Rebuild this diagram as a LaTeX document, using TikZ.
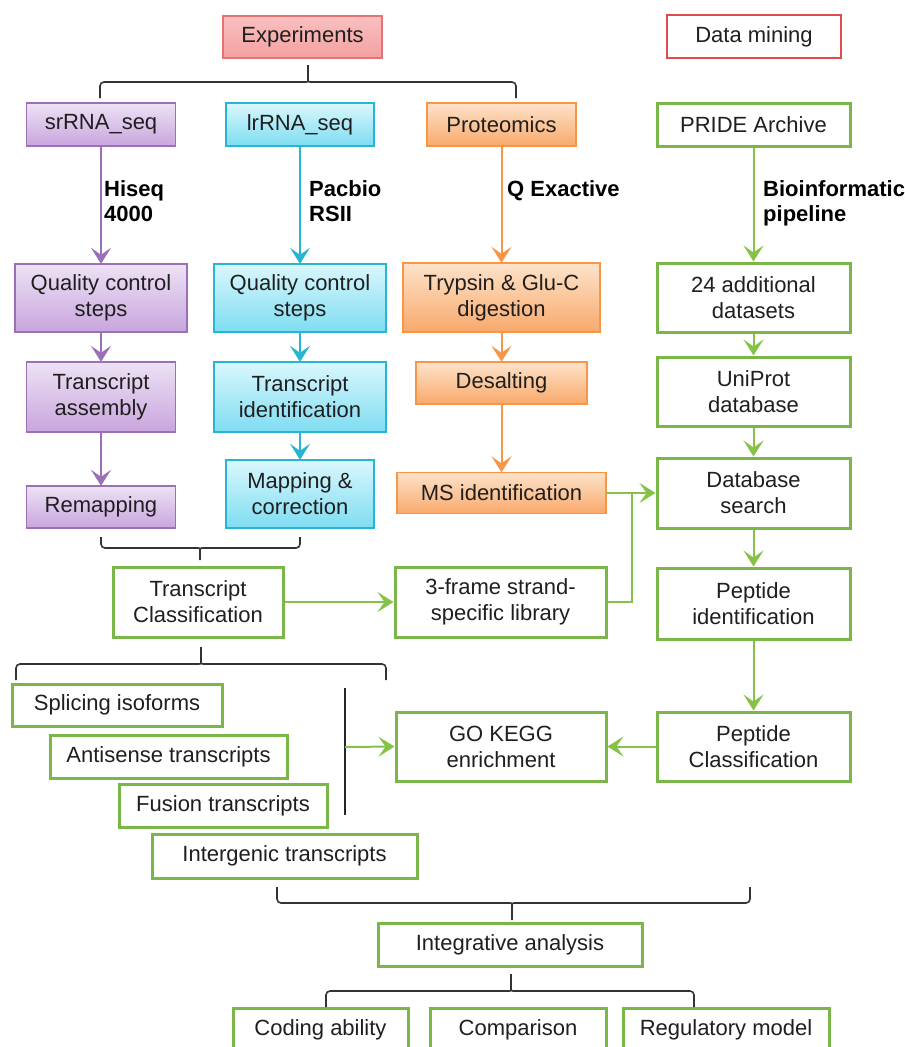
\documentclass[tikz,border=0pt]{standalone}
\usepackage{fontspec}
\setmainfont{Liberation Sans}
\usetikzlibrary{arrows.meta, positioning}
\definecolor{purpD}{HTML}{9C70B8}
\definecolor{purpT}{HTML}{EDE2F5}
\definecolor{purpB}{HTML}{C9A5DD}
\definecolor{cyanD}{HTML}{26B5D3}
\definecolor{cyanT}{HTML}{DAF7FC}
\definecolor{cyanB}{HTML}{7EDDF2}
\definecolor{orngD}{HTML}{F79646}
\definecolor{orngT}{HTML}{FDE3CA}
\definecolor{orngB}{HTML}{F9A96B}
\definecolor{redD}{HTML}{E04B4F}
\definecolor{redL}{HTML}{E57373}
\definecolor{redT}{HTML}{F9C0C0}
\definecolor{redB}{HTML}{F4A0A0}
\definecolor{grnD}{HTML}{7AB648}
\definecolor{grnA}{HTML}{86C247}

\begin{document}
\begin{tikzpicture}[x=1pt, y=-1pt, font=\fontsize{22}{26}\selectfont,
  box/.style={align=center, inner sep=0pt, text=black!88},
  sz/.style 2 args={minimum width=#1pt, minimum height=#2pt},
  srbox/.style={box, preaction={top color=purpT, bottom color=purpB},
                postaction={draw=purpD, line width=1.8pt}},
  lrbox/.style={box, preaction={top color=cyanT, bottom color=cyanB},
                postaction={draw=cyanD, line width=1.8pt}},
  prbox/.style={box, preaction={top color=orngT, bottom color=orngB},
                postaction={draw=orngD, line width=1.8pt}},
  expbox/.style={box, preaction={top color=redT, bottom color=redB},
                 postaction={draw=redL, line width=1.8pt}},
  dmbox/.style={box, draw=redD, line width=2.8pt, fill=white},
  gbox/.style={box, draw=grnD, line width=3pt, fill=white},
  lbl/.style={font=\fontsize{22}{25}\selectfont\bfseries, align=left, inner sep=0pt},
  tip/.style={-{Stealth[length=16pt, width=20pt, inset=7pt]}, line width=2pt},
  arrP/.style={tip, draw=purpD},
  arrC/.style={tip, draw=cyanD},
  arrO/.style={tip, draw=orngD},
  arrG/.style={tip, draw=grnA},
  lnG/.style={draw=grnA, line width=2pt},
  brc/.style={draw=black!80, line width=1.6pt, rounded corners=4pt}
]
\useasboundingbox (0,0) rectangle (905,1047);

% headers
\node[expbox, sz={159}{42}] (exp) at (302.5,37) {Experiments};
\node[dmbox, sz={174}{43}] (dm) at (754,36.5) {Data mining};

% column heads
\node[srbox, sz={149}{43}] (sr) at (101,124.5) {srRNA\_seq};
\node[lrbox, sz={148}{43}] (lr) at (300,124.5) {lrRNA\_seq};
\node[prbox, sz={149}{43}] (pr) at (501.5,124.5) {Proteomics};
\node[gbox, sz={193}{43}] (pride) at (753.5,124.5) {PRIDE Archive};

% second row
\node[srbox, sz={172}{68}] (qcs) at (101,298) {Quality control\\steps};
\node[lrbox, sz={172}{68}] (qcl) at (300,298) {Quality control\\steps};
\node[prbox, sz={197}{69}] (tryp) at (501.5,297.5) {Trypsin \& Glu-C\\digestion};
\node[gbox, sz={193}{69}] (add) at (753.5,297.5) {24 additional\\datasets};

% third row
\node[srbox, sz={149}{70}] (ta) at (101,397) {Transcript\\assembly};
\node[lrbox, sz={172}{70}] (ti) at (300,397) {Transcript\\identification};
\node[prbox, sz={171}{42}] (des) at (501.5,383) {Desalting};
\node[gbox, sz={193}{69}] (uni) at (753.5,391.5) {UniProt\\database};

% fourth row
\node[srbox, sz={149}{42}] (rem) at (101,507) {Remapping};
\node[lrbox, sz={148}{68}] (mc) at (300,494) {Mapping \&\\correction};
\node[prbox, sz={209}{41}] (ms) at (501.5,493) {MS identification};
\node[gbox, sz={193}{70}] (dbs) at (753.5,493) {Database\\search};

% classification row
\node[gbox, sz={170}{70}] (tc) at (198,602) {Transcript\\Classification};
\node[gbox, sz={211}{70}] (lib) at (500.5,602) {3-frame strand-\\specific library};
\node[gbox, sz={193}{71}] (pid) at (753.5,603.5) {Peptide\\identification};

% transcript classes
\node[gbox, sz={210}{42}] (spl) at (117,705) {Splicing isoforms};
\node[gbox, sz={237}{43}] (anti) at (168.5,756.5) {Antisense transcripts};
\node[gbox, sz={208}{43}] (fus) at (223,805.5) {Fusion transcripts};
\node[gbox, sz={265}{44}] (igen) at (284.5,856) {Intergenic transcripts};
\node[gbox, sz={210}{69}] (go) at (501,746.5) {GO KEGG\\enrichment};
\node[gbox, sz={193}{69}] (pcl) at (753.5,746.5) {Peptide\\Classification};

% integration
\node[gbox, sz={264}{43}] (integ) at (510,944.5) {Integrative analysis};
\node[gbox, sz={175}{44}] (code) at (320.5,1030) {Coding ability};
\node[gbox, sz={176}{44}] (comp) at (518,1030) {Comparison};
\node[gbox, sz={206}{44}] (regm) at (726,1030) {Regulatory model};

% platform labels
\node[lbl, anchor=north west] (hiseq) at (104,180) {Hiseq\\4000};
\node[lbl, anchor=north west] (pacb) at (309,180) {Pacbio\\RSII};
\node[lbl, anchor=north west] (qex) at (507,180) {Q Exactive};
\node[lbl, anchor=north west] (bioi) at (763,180) {Bioinformatic\\pipeline};

% column arrows
\draw[arrP] (sr) -- (qcs);
\draw[arrP] (qcs) -- (ta);
\draw[arrP] (ta) -- (rem);
\draw[arrC] (lr) -- (qcl);
\draw[arrC] (qcl) -- (ti);
\draw[arrC] (ti) -- (mc);
\draw[arrO] (pr) -- (tryp);
\draw[arrO] (tryp) -- (des);
\draw[arrO] (des.south) -- (ms.north);
\draw[arrG] (pride) -- (add);
\draw[arrG] (add) -- (uni);
\draw[arrG] (uni) -- (dbs);
\draw[arrG] (dbs) -- (pid);
\draw[arrG] (pid) -- (pcl);

% cross links
\coordinate (jn) at (632,493);
\draw[arrG] (ms.east) -- (dbs.west);
\draw[lnG] (lib.east) -| (jn);
\draw[arrG] (tc.east) -- (lib.west);
\draw[arrG] (pcl.west) -- (go.east);
\coordinate (vt) at (345,688);
\coordinate (vb) at (345,815);
\coordinate (vm) at (345,747);
\draw[line width=1.6pt, black!85] (vt) -- (vb);
\draw[arrG] (vm) -- (go.west);

% braces
\draw[brc] (100,98) -- (100,82) -- (302,82) .. controls (308,82) .. (308,76) -- (308,65);
\draw[brc] (516,98) -- (516,82) -- (314,82) .. controls (308,82) .. (308,76);
\draw[brc] (101,537) -- (101,548) -- (194,548) .. controls (200,548) .. (200,554) -- (200,560);
\draw[brc] (300,537) -- (300,548) -- (206,548) .. controls (200,548) .. (200,554);
\draw[brc] (16,680) -- (16,664) -- (195,664) .. controls (201,664) .. (201,658) -- (201,647);
\draw[brc] (386,680) -- (386,664) -- (207,664) .. controls (201,664) .. (201,658);
\draw[brc] (277,887) -- (277,903) -- (506,903) .. controls (512,903) .. (512,909) -- (512,920);
\draw[brc] (750,887) -- (750,903) -- (518,903) .. controls (512,903) .. (512,909);
\draw[brc] (326,1007) -- (326,991) -- (505,991) .. controls (511,991) .. (511,985) -- (511,974);
\draw[brc] (694,1007) -- (694,991) -- (517,991) .. controls (511,991) .. (511,985);
\end{tikzpicture}
\end{document}
